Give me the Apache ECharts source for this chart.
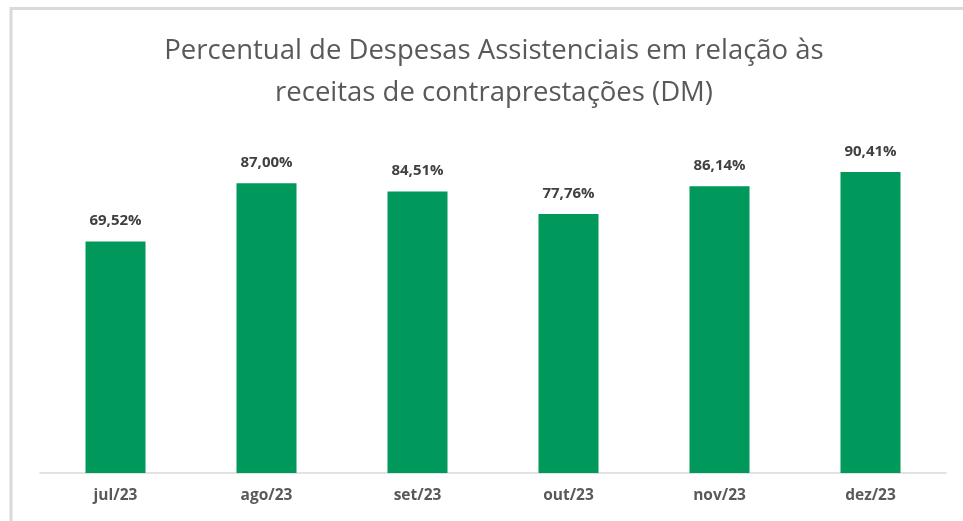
<!DOCTYPE html>
<html><head><meta charset="utf-8">
<script src="https://cdn.jsdelivr.net/npm/echarts@6/dist/echarts.min.js"></script>
<style>html,body{margin:0;padding:0;background:#fff}#c{width:963px;height:521px}</style>
</head><body><div id="c"></div>
<script>
const categories = ['jul/23','ago/23','set/23','out/23','nov/23','dez/23'];
const values = [69.52, 87.00, 84.51, 77.76, 86.14, 90.41];
const titleLines = ['Percentual de Despesas Assistenciais em relação às', 'receitas de contraprestações (DM)'];

const chart = echarts.init(document.getElementById('c'), null, {renderer:'canvas'});
chart.setOption({
  animation:false,
  backgroundColor:'#fff',
  title:{
    text: titleLines.join('\n'),
    left: 489, top: 25, textAlign:'center',
    textStyle:{fontFamily:'Open Sans', fontWeight:'normal', fontSize:27.5, color:'#595959', lineHeight:42}
  },
  graphic:[{type:'rect', shape:{x:11, y:8.5, width:1000, height:600}, style:{fill:'none', stroke:'#d9d9d9', lineWidth:3}, silent:true}],
  grid:{left:40, right:17, top:140, bottom:48},
  xAxis:{
    type:'category', data:categories,
    axisLine:{lineStyle:{color:'#d9d9d9', width:1.5}},
    axisTick:{show:false},
    axisLabel:{fontFamily:'Open Sans', fontWeight:'bold', fontSize:15.5, color:'#595959', margin:15}
  },
  yAxis:{type:'value', min:0, max:100, show:false, splitLine:{show:false}},
  series:[{
    type:'bar', data:values, barWidth:60,
    itemStyle:{color:'#00985B'},
    label:{show:true, position:'top', distance:13,
      formatter:p=>p.value.toFixed(2).replace('.',',')+'%',
      fontFamily:'Open Sans', fontWeight:'bold', fontSize:15, color:'#404040'}
  }]
});
</script></body></html>
